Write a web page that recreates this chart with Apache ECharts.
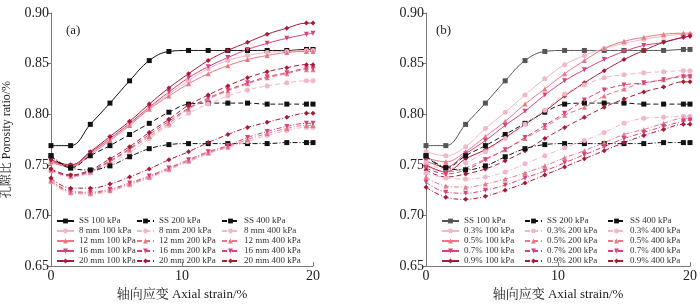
<!DOCTYPE html>
<html lang="zh">
<head>
<meta charset="UTF-8">
<title>孔隙比</title>
<script src="https://cdn.jsdelivr.net/npm/echarts@6/dist/echarts.min.js"></script>
<style>html,body{margin:0;padding:0;background:#fff;}</style>
</head>
<body>
<div id="main" style="width:700px;height:306px;"></div>
<script>
// 轴向应变（%）
var strain = [0, 1.5, 3, 4.5, 6, 7.5, 9, 10.5, 12, 13.5, 15, 16.5, 18, 19.5, 20];

// 素砂 SS
var ss100 = [0.769, 0.769, 0.790, 0.811, 0.833, 0.853, 0.862, 0.863, 0.863, 0.863, 0.863, 0.863, 0.863, 0.864, 0.864];
var ss200 = [0.759, 0.747, 0.759, 0.769, 0.780, 0.791, 0.802, 0.810, 0.811, 0.811, 0.811, 0.810, 0.810, 0.810, 0.810];
var ss400 = [0.759, 0.747, 0.745, 0.749, 0.758, 0.766, 0.770, 0.771, 0.771, 0.771, 0.771, 0.771, 0.772, 0.772, 0.772];

// (a) 纤维长度
var mm8_100  = [0.752, 0.748, 0.761, 0.775, 0.790, 0.806, 0.820, 0.833, 0.845, 0.853, 0.858, 0.861, 0.862, 0.863, 0.863];
var mm12_100 = [0.753, 0.748, 0.760, 0.774, 0.789, 0.805, 0.818, 0.830, 0.840, 0.848, 0.854, 0.858, 0.861, 0.862, 0.862];
var mm16_100 = [0.754, 0.749, 0.762, 0.776, 0.791, 0.807, 0.822, 0.836, 0.847, 0.856, 0.864, 0.870, 0.875, 0.879, 0.880];
var mm20_100 = [0.755, 0.750, 0.763, 0.778, 0.793, 0.810, 0.826, 0.840, 0.853, 0.863, 0.871, 0.879, 0.885, 0.890, 0.890];
var mm8_200  = [0.744, 0.738, 0.742, 0.751, 0.762, 0.776, 0.789, 0.801, 0.810, 0.818, 0.824, 0.828, 0.831, 0.833, 0.833];
var mm12_200 = [0.745, 0.739, 0.743, 0.753, 0.765, 0.778, 0.791, 0.805, 0.815, 0.823, 0.830, 0.836, 0.840, 0.844, 0.844];
var mm16_200 = [0.745, 0.739, 0.744, 0.754, 0.766, 0.780, 0.793, 0.806, 0.816, 0.824, 0.831, 0.837, 0.841, 0.845, 0.845];
var mm20_200 = [0.746, 0.740, 0.745, 0.756, 0.768, 0.782, 0.795, 0.809, 0.819, 0.828, 0.836, 0.842, 0.846, 0.849, 0.849];
var mm8_400  = [0.733, 0.722, 0.721, 0.724, 0.730, 0.737, 0.745, 0.753, 0.761, 0.767, 0.773, 0.779, 0.784, 0.787, 0.787];
var mm12_400 = [0.734, 0.723, 0.722, 0.725, 0.731, 0.738, 0.746, 0.754, 0.762, 0.768, 0.775, 0.781, 0.786, 0.789, 0.789];
var mm16_400 = [0.735, 0.724, 0.723, 0.726, 0.732, 0.739, 0.747, 0.755, 0.763, 0.769, 0.777, 0.783, 0.788, 0.791, 0.791];
var mm20_400 = [0.737, 0.727, 0.727, 0.731, 0.738, 0.746, 0.755, 0.763, 0.772, 0.780, 0.787, 0.792, 0.797, 0.801, 0.801];

// (b) 纤维掺量
var p3_100 = [0.763, 0.759, 0.768, 0.786, 0.802, 0.819, 0.835, 0.849, 0.858, 0.865, 0.870, 0.874, 0.877, 0.879, 0.879];
var p5_100 = [0.757, 0.753, 0.763, 0.778, 0.793, 0.810, 0.825, 0.840, 0.853, 0.865, 0.872, 0.876, 0.879, 0.880, 0.880];
var p7_100 = [0.754, 0.748, 0.761, 0.774, 0.789, 0.803, 0.819, 0.833, 0.844, 0.854, 0.862, 0.868, 0.871, 0.876, 0.877];
var p9_100 = [0.750, 0.743, 0.756, 0.765, 0.777, 0.790, 0.803, 0.818, 0.831, 0.843, 0.854, 0.863, 0.871, 0.876, 0.877];
var p3_200 = [0.752, 0.746, 0.752, 0.763, 0.776, 0.790, 0.804, 0.820, 0.829, 0.836, 0.839, 0.841, 0.842, 0.843, 0.843];
var p5_200 = [0.749, 0.743, 0.747, 0.756, 0.765, 0.776, 0.787, 0.799, 0.807, 0.818, 0.825, 0.831, 0.834, 0.838, 0.838];
var p7_200 = [0.747, 0.741, 0.745, 0.755, 0.765, 0.777, 0.789, 0.801, 0.814, 0.824, 0.829, 0.831, 0.834, 0.837, 0.837];
var p9_200 = [0.745, 0.738, 0.741, 0.746, 0.754, 0.764, 0.776, 0.787, 0.797, 0.807, 0.815, 0.822, 0.827, 0.832, 0.832];
var p3_400 = [0.742, 0.737, 0.736, 0.738, 0.743, 0.751, 0.759, 0.767, 0.774, 0.782, 0.791, 0.796, 0.797, 0.798, 0.798];
var p5_400 = [0.738, 0.729, 0.728, 0.731, 0.736, 0.742, 0.749, 0.757, 0.764, 0.772, 0.780, 0.785, 0.791, 0.796, 0.796];
var p7_400 = [0.733, 0.723, 0.722, 0.725, 0.730, 0.737, 0.744, 0.752, 0.760, 0.768, 0.776, 0.782, 0.788, 0.793, 0.794];
var p9_400 = [0.728, 0.718, 0.716, 0.719, 0.725, 0.732, 0.740, 0.748, 0.756, 0.764, 0.772, 0.779, 0.785, 0.790, 0.790];

var serif = "'Liberation Serif', 'Noto Serif CJK SC', 'Noto Sans CJK SC', serif";
var c1 = '#f2b6c8', c2 = '#e67a84', c3 = '#d8437c', c4 = '#a71c33';
var dash200 = [5, 3], dash400 = [5, 2, 1, 2];

function pts(arr) {
    return arr.map(function (v, i) { return [strain[i], v]; });
}

function line(name, arr, idx, color, symbol, dash) {
    return {
        name: name,
        type: 'line',
        xAxisIndex: idx,
        yAxisIndex: idx,
        data: pts(arr),
        smooth: 0.4,
        symbol: symbol === 'down' ? 'triangle' : symbol,
        symbolRotate: symbol === 'down' ? 180 : 0,
        symbolSize: 5,
        itemStyle: { color: color },
        lineStyle: { color: color, width: 1, type: dash || 'solid' },
        z: 2
    };
}

var series = [
    line('SS 100 kPa', ss100, 0, '#111', 'rect'),
    line('8 mm 100 kPa', mm8_100, 0, c1, 'circle'),
    line('12 mm 100 kPa', mm12_100, 0, c2, 'triangle'),
    line('16 mm 100 kPa', mm16_100, 0, c3, 'down'),
    line('20 mm 100 kPa', mm20_100, 0, c4, 'diamond'),
    line('SS 200 kPa', ss200, 0, '#111', 'rect', dash200),
    line('8 mm 200 kPa', mm8_200, 0, c1, 'circle', dash200),
    line('12 mm 200 kPa', mm12_200, 0, c2, 'triangle', dash200),
    line('16 mm 200 kPa', mm16_200, 0, c3, 'down', dash200),
    line('20 mm 200 kPa', mm20_200, 0, c4, 'diamond', dash200),
    line('SS 400 kPa', ss400, 0, '#111', 'rect', dash400),
    line('8 mm 400 kPa', mm8_400, 0, c1, 'circle', dash400),
    line('12 mm 400 kPa', mm12_400, 0, c2, 'triangle', dash400),
    line('16 mm 400 kPa', mm16_400, 0, c3, 'down', dash400),
    line('20 mm 400 kPa', mm20_400, 0, c4, 'diamond', dash400),

    line('SS 100 kPa ', ss100, 1, '#555', 'rect'),
    line('0.3% 100 kPa', p3_100, 1, c1, 'circle'),
    line('0.5% 100 kPa', p5_100, 1, c2, 'triangle'),
    line('0.7% 100 kPa', p7_100, 1, c3, 'down'),
    line('0.9% 100 kPa', p9_100, 1, c4, 'diamond'),
    line('SS 200 kPa ', ss200, 1, '#111', 'rect', dash200),
    line('0.3% 200 kPa', p3_200, 1, c1, 'circle', dash200),
    line('0.5% 200 kPa', p5_200, 1, c2, 'triangle', dash200),
    line('0.7% 200 kPa', p7_200, 1, c3, 'down', dash200),
    line('0.9% 200 kPa', p9_200, 1, c4, 'diamond', dash200),
    line('SS 400 kPa ', ss400, 1, '#111', 'rect', dash400),
    line('0.3% 400 kPa', p3_400, 1, c1, 'circle', dash400),
    line('0.5% 400 kPa', p5_400, 1, c2, 'triangle', dash400),
    line('0.7% 400 kPa', p7_400, 1, c3, 'down', dash400),
    line('0.9% 400 kPa', p9_400, 1, c4, 'diamond', dash400)
];

function legendCol(left, names) {
    return {
        orient: 'vertical',
        left: left,
        top: 216,
        itemWidth: 17,
        itemHeight: 6,
        itemGap: 0,
        padding: 0,
        selectedMode: false,
        textStyle: { fontFamily: serif, fontSize: 9, color: '#333', lineHeight: 10, height: 10 },
        data: names
    };
}

function xAx(idx) {
    return {
        type: 'value',
        gridIndex: idx,
        min: 0, max: 20, interval: 10,
        name: '轴向应变 Axial strain/%',
        nameLocation: 'middle',
        nameGap: 17,
        nameTextStyle: { fontFamily: serif, fontSize: 13, color: '#222' },
        axisLine: { lineStyle: { color: '#777' } },
        axisTick: { inside: true, length: 4, lineStyle: { color: '#777' } },
        axisLabel: { fontFamily: serif, fontSize: 14, color: '#222', margin: 3 },
        splitLine: { show: false }
    };
}

function yAx(idx) {
    return {
        type: 'value',
        gridIndex: idx,
        min: 0.65, max: 0.90, interval: 0.05,
        name: idx === 0 ? '孔隙比 Porosity ratio/%' : '',
        nameLocation: 'middle',
        nameGap: 38,
        nameTextStyle: { fontFamily: serif, fontSize: 12, color: '#222' },
        axisLine: { show: true, lineStyle: { color: '#777' } },
        axisTick: { show: true, length: 4, lineStyle: { color: '#777' } },
        axisLabel: {
            fontFamily: serif, fontSize: 14, color: '#222', margin: 2,
            formatter: function (v) { return v.toFixed(2); }
        },
        splitLine: { show: false }
    };
}

var chart = echarts.init(document.getElementById('main'));
chart.setOption({
    animation: false,
    backgroundColor: '#fff',
    grid: [
        { left: 46, top: 13, width: 267, height: 261 },
        { left: 426, top: 13, width: 267, height: 261 }
    ],
    xAxis: [xAx(0), xAx(1)],
    yAxis: [yAx(0), yAx(1)],
    legend: [
        legendCol(56, ['SS 100 kPa', '8 mm 100 kPa', '12 mm 100 kPa', '16 mm 100 kPa', '20 mm 100 kPa']),
        legendCol(136, ['SS 200 kPa', '8 mm 200 kPa', '12 mm 200 kPa', '16 mm 200 kPa', '20 mm 200 kPa']),
        legendCol(221, ['SS 400 kPa', '8 mm 400 kPa', '12 mm 400 kPa', '16 mm 400 kPa', '20 mm 400 kPa']),
        legendCol(441, ['SS 100 kPa ', '0.3% 100 kPa', '0.5% 100 kPa', '0.7% 100 kPa', '0.9% 100 kPa']),
        legendCol(524, ['SS 200 kPa ', '0.3% 200 kPa', '0.5% 200 kPa', '0.7% 200 kPa', '0.9% 200 kPa']),
        legendCol(607, ['SS 400 kPa ', '0.3% 400 kPa', '0.5% 400 kPa', '0.7% 400 kPa', '0.9% 400 kPa'])
    ],
    graphic: [
        { type: 'text', left: 66, top: 24, style: { text: '(a)', font: '13px ' + serif, fill: '#222' } },
        { type: 'text', left: 436, top: 24, style: { text: '(b)', font: '13px ' + serif, fill: '#222' } }
    ],
    series: series
});
</script>
</body>
</html>
